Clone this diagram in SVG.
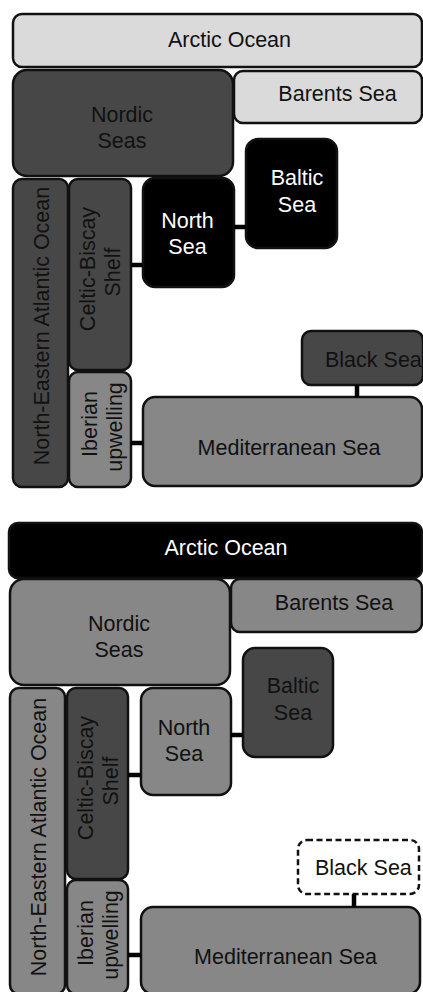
<svg xmlns="http://www.w3.org/2000/svg" width="423" height="992" viewBox="0 0 423 992">
<style>
rect{stroke:#111;stroke-width:2.5}
.lt{fill:#dadada}
.dk{fill:#474747}
.bk{fill:#000}
.md{fill:#878787}
.wh{fill:#fff;stroke-dasharray:6 3.5}
text{font-family:"Liberation Sans",Arial,sans-serif;font-size:21.5px;fill:#111}
.w{fill:#fff}
.c{text-anchor:middle}
.con line{stroke:#000;stroke-width:4.5}
</style>
<rect x="0" y="0" width="423" height="992" style="fill:#fff;stroke:none"/>
<g id="top">
<g id="t-arctic"><rect class="lt" x="13" y="14" width="409" height="53" rx="9"/><text class="c" x="229.5" y="47">Arctic Ocean</text></g>
<g id="t-barents"><rect class="lt" x="234" y="71" width="188" height="52" rx="9"/><text class="c" x="337.5" y="101">Barents Sea</text></g>
<g id="t-nordic"><rect class="dk" x="13" y="70" width="220" height="106" rx="14"/><text class="c" x="122" y="122">Nordic</text><text class="c" x="122" y="148">Seas</text></g>
<g id="t-baltic"><rect class="bk" x="246" y="139" width="91" height="109" rx="12"/><text class="c w" x="297" y="185">Baltic</text><text class="c w" x="297" y="212">Sea</text></g>
<g id="t-north"><rect class="bk" x="143" y="178" width="91" height="109" rx="12"/><text class="c w" x="187.5" y="228">North</text><text class="c w" x="187.5" y="254">Sea</text></g>
<g id="t-nea"><rect class="dk" x="13" y="179" width="55" height="308" rx="9"/><text class="c" transform="translate(49,326) rotate(-90)">North-Eastern Atlantic Ocean</text></g>
<g id="t-celtic"><rect class="dk" x="69" y="179" width="62" height="191" rx="9"/><text class="c" transform="translate(95,269) rotate(-90)">Celtic-Biscay</text><text class="c" transform="translate(120,272) rotate(-90)">Shelf</text></g>
<g id="t-iberian"><rect class="md" x="69" y="372" width="62" height="115" rx="9"/><text class="c" transform="translate(97,424) rotate(-90)">Iberian</text><text class="c" transform="translate(122,427) rotate(-90)">upwelling</text></g>
<g id="t-med"><rect class="md" x="143" y="397" width="279" height="89" rx="12"/><text class="c" x="289" y="455">Mediterranean Sea</text></g>
<g id="t-black"><rect class="dk" x="302" y="331" width="121" height="54" rx="9"/><text x="325" y="367">Black Sea</text></g>
</g>
<g id="bottom">
<g id="b-arctic"><rect class="bk" x="9" y="523" width="413" height="55" rx="9"/><text class="c w" x="226" y="555">Arctic Ocean</text></g>
<g id="b-barents"><rect class="md" x="231" y="579" width="191" height="53" rx="9"/><text class="c" x="334" y="610">Barents Sea</text></g>
<g id="b-nordic"><rect class="md" x="10" y="579" width="220" height="106" rx="14"/><text class="c" x="119" y="631">Nordic</text><text class="c" x="119" y="657">Seas</text></g>
<g id="b-baltic"><rect class="dk" x="243" y="648" width="90" height="109" rx="12"/><text class="c" x="293" y="693">Baltic</text><text class="c" x="293" y="720">Sea</text></g>
<g id="b-north"><rect class="md" x="141" y="688" width="90" height="107" rx="12"/><text class="c" x="184" y="735">North</text><text class="c" x="184" y="761">Sea</text></g>
<g id="b-nea"><rect class="md" x="10" y="688" width="55" height="306" rx="9"/><text class="c" transform="translate(46,837) rotate(-90)">North-Eastern Atlantic Ocean</text></g>
<g id="b-celtic"><rect class="dk" x="67" y="688" width="61" height="191" rx="9"/><text class="c" transform="translate(93,778) rotate(-90)">Celtic-Biscay</text><text class="c" transform="translate(118,781) rotate(-90)">Shelf</text></g>
<g id="b-iberian"><rect class="md" x="67" y="880" width="61" height="114" rx="9"/><text class="c" transform="translate(93,933) rotate(-90)">Iberian</text><text class="c" transform="translate(118,935) rotate(-90)">upwelling</text></g>
<g id="b-med"><rect class="md" x="141" y="907" width="279" height="87" rx="12"/><text class="c" x="285.5" y="964">Mediterranean Sea</text></g>
<g id="b-black"><rect class="wh" x="298" y="840" width="121" height="54" rx="9"/><text x="315" y="875">Black Sea</text></g>
</g>
<g id="connectors" class="con">
<line x1="234" y1="227" x2="246" y2="227"/>
<line x1="131" y1="265" x2="143" y2="265"/>
<line x1="131" y1="443" x2="143" y2="443"/>
<line x1="357" y1="385" x2="357" y2="397"/>
<line x1="231" y1="735" x2="243" y2="735"/>
<line x1="128" y1="775" x2="141" y2="775"/>
<line x1="128" y1="955" x2="141" y2="955"/>
<line x1="354" y1="894" x2="354" y2="907"/>
</g>
</svg>
